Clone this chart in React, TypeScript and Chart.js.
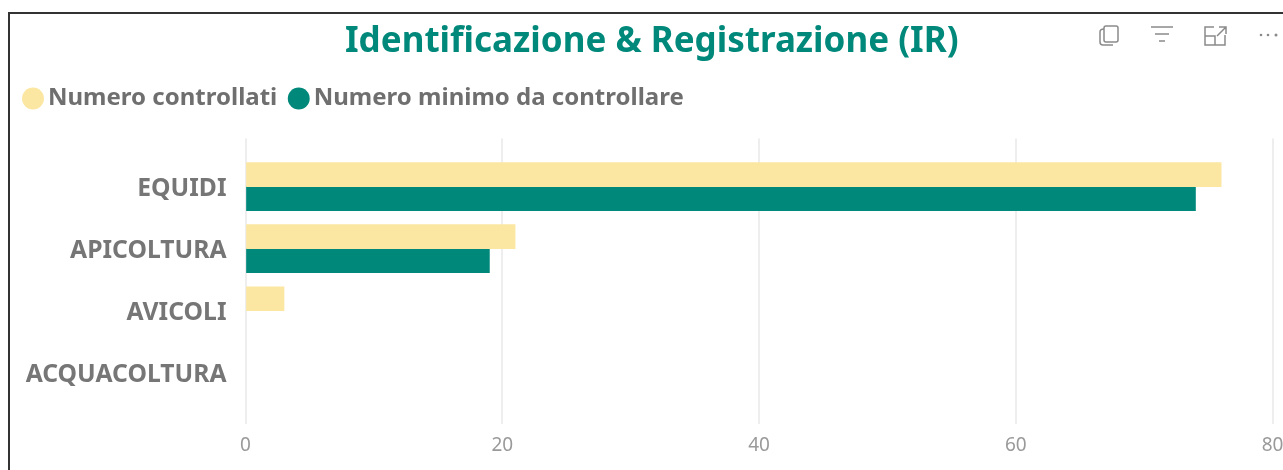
import React, { useEffect, useRef } from "react";
import { Chart, registerables } from "chart.js";

Chart.register(...registerables);

const categories = ["EQUIDI", "APICOLTURA", "AVICOLI", "ACQUACOLTURA"];
const controllati = [76, 21, 3, 0];
const minimo = [74, 19, 0, 0];
const xTicks = [0, 20, 40, 60, 80];
const titleText = "Identificazione & Registrazione (IR)";
const seriesNames = ["Numero controllati", "Numero minimo da controllare"];
const YELLOW = "#FBE7A1";
const TEAL = "#00897B";
const FONT = "'Noto Sans', sans-serif";

const layoutTweaks = {
  id: "layoutTweaks",
  afterLayout(chart: any) {
    const title = chart.titleBlock;
    if (title) {
      title.left += 4;
      title.right += 4;
      title.top -= 16;
      title.bottom -= 16;
    }
    const legend = chart.legend;
    if (legend) {
      legend.left -= 1;
      legend.top -= 18;
      legend.bottom -= 18;
    }
  },
};

export default function App() {
  const ref = useRef<HTMLCanvasElement>(null);
  useEffect(() => {
    const chart = new Chart(ref.current!, {
      type: "bar",
      plugins: [layoutTweaks],
      data: {
        datasets: [
          {
            label: seriesNames[0],
            data: controllati.map((v, i) => ({ x: v || null, y: i })),
            backgroundColor: YELLOW,
            barThickness: 24,
          },
          {
            label: seriesNames[1],
            data: minimo.map((v, i) => ({ x: v || null, y: i })),
            backgroundColor: TEAL,
            barThickness: 24,
          },
        ],
      } as any,
      options: {
        indexAxis: "y",
        animation: false,
        responsive: false,
        layout: { padding: { left: 12.5, right: 0, top: 37, bottom: 0 } },
        plugins: {
          title: {
            display: true,
            text: titleText,
            color: TEAL,
            font: { family: FONT, size: 35, weight: "700" },
            padding: { top: 0, bottom: 7 },
          },
          legend: {
            position: "top",
            align: "start",
            labels: {
              usePointStyle: true,
              pointStyle: "circle",
              boxWidth: 6,
              boxHeight: 15.5,
              padding: 18.5,
              color: "#6f6f6f",
              font: { family: FONT, size: 24, weight: "700" },
            },
          },
          tooltip: { enabled: false },
        },
        scales: {
          x: {
            type: "linear",
            min: 0,
            max: 80,
            afterBuildTicks: (s: any) => {
              s.ticks = xTicks.map((value) => ({ value }));
            },
            afterFit: (s: any) => {
              s.height = 46;
              s.paddingRight = 10.5;
            },
            grid: { color: "#eeeeee", lineWidth: 2, drawTicks: false },
            border: { display: false },
            ticks: {
              color: "#9a9a9a",
              padding: 10,
              maxRotation: 0,
              autoSkip: false,
              font: { family: FONT, size: 19 },
            },
          },
          y: {
            type: "linear",
            reverse: true,
            offset: false,
            min: -0.774,
            max: 3.823,
            afterBuildTicks: (s: any) => {
              s.ticks = categories.map((_, value) => ({ value }));
            },
            afterFit: (s: any) => {
              s.width = 233;
            },
            grid: { display: false, drawTicks: false },
            border: { display: false },
            ticks: {
              color: "#767676",
              padding: 19,
              labelOffset: 2,
              autoSkip: false,
              callback: (v: any) => categories[v],
              font: { family: FONT, size: 24.7, weight: "700" },
            },
          },
        },
      } as any,
    });
    return () => chart.destroy();
  }, []);

  return (
    <div style={{ position: "absolute", left: 0, top: 0, width: 1283, height: 470, overflow: "hidden", background: "#fff" }}>
      <canvas ref={ref} width={1283} height={470} style={{ position: "absolute", left: 0, top: 0, display: "block" }} />
      <div style={{ position: "absolute", left: 8, top: 12, width: 1275, height: 458, borderLeft: "2px solid #333", borderTop: "2px solid #333", boxSizing: "border-box", pointerEvents: "none" }} />
      <svg width={1283} height={60} style={{ position: "absolute", left: 0, top: 0 }} fill="none" stroke="#8a8a8a" strokeWidth={1.5}>
        <rect x={1104} y={26} width={14} height={16} rx={2} />
        <path d="M1104 29 q-4 0 -4 3 v10 q0 3 3 3 h10" />
        <path d="M1151 27 h22 M1155 34 h14 M1159 41 h6" />
        <path d="M1214 27 h-9 v18 h20 v-10 M1205 36 h10 v9 M1217 36 l9 -9 M1219 27 h7 v7" />
        <g fill="#8a8a8a" stroke="none">
          <circle cx={1261} cy={35} r={1.3} />
          <circle cx={1268} cy={35} r={1.3} />
          <circle cx={1276} cy={35} r={1.5} />
        </g>
      </svg>
    </div>
  );
}
